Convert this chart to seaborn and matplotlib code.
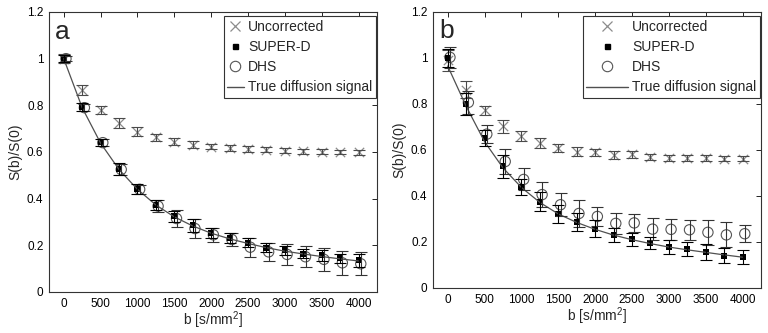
import matplotlib
matplotlib.use("Agg")
import matplotlib.pyplot as plt
import seaborn as sns
import pandas as pd
from matplotlib.lines import Line2D

# b-values (s/mm^2)
b_vals = [0, 250, 500, 750, 1000, 1250, 1500, 1750, 2000,
          2250, 2500, 2750, 3000, 3250, 3500, 3750, 4000]

# panel a
unc_a = [1.00, 0.866, 0.780, 0.723, 0.687, 0.663, 0.644, 0.632, 0.623,
         0.618, 0.612, 0.609, 0.606, 0.604, 0.602, 0.600, 0.599]
unc_a_err = [0.020, 0.020, 0.018, 0.022, 0.018, 0.016, 0.015, 0.016, 0.012,
             0.012, 0.012, 0.011, 0.011, 0.011, 0.011, 0.010, 0.010]
sup_a = [1.00, 0.792, 0.642, 0.526, 0.442, 0.374, 0.324, 0.286, 0.253,
         0.232, 0.211, 0.190, 0.178, 0.165, 0.157, 0.144, 0.137]
sup_a_err = [0.015, 0.018, 0.015, 0.025, 0.022, 0.022, 0.025, 0.028, 0.020,
             0.021, 0.020, 0.018, 0.020, 0.020, 0.025, 0.020, 0.028]
dhs_a = [1.00, 0.790, 0.640, 0.525, 0.440, 0.368, 0.315, 0.272, 0.245,
         0.225, 0.192, 0.172, 0.161, 0.151, 0.140, 0.125, 0.121]
dhs_a_err = [0.012, 0.015, 0.015, 0.025, 0.020, 0.025, 0.038, 0.042, 0.030,
             0.028, 0.040, 0.040, 0.045, 0.045, 0.050, 0.050, 0.050]
true_a = [1.00, 0.790, 0.638, 0.525, 0.440, 0.373, 0.322, 0.283, 0.252,
          0.228, 0.208, 0.190, 0.175, 0.163, 0.152, 0.142, 0.133]

# panel b
unc_b = [0.990, 0.862, 0.773, 0.704, 0.662, 0.630, 0.608, 0.593, 0.590,
         0.579, 0.581, 0.568, 0.567, 0.567, 0.566, 0.563, 0.563]
unc_b_err = [0.045, 0.038, 0.020, 0.028, 0.022, 0.022, 0.018, 0.020, 0.015,
             0.016, 0.015, 0.013, 0.013, 0.013, 0.013, 0.012, 0.012]
sup_b = [1.00, 0.800, 0.653, 0.530, 0.440, 0.376, 0.323, 0.289, 0.258,
         0.230, 0.212, 0.195, 0.179, 0.169, 0.157, 0.141, 0.135]
sup_b_err = [0.040, 0.048, 0.035, 0.050, 0.034, 0.043, 0.039, 0.039, 0.037,
             0.032, 0.029, 0.027, 0.031, 0.029, 0.034, 0.032, 0.032]
dhs_b = [1.003, 0.807, 0.669, 0.550, 0.472, 0.406, 0.362, 0.324, 0.311,
         0.281, 0.283, 0.256, 0.255, 0.253, 0.242, 0.231, 0.236]
dhs_b_err = [0.045, 0.050, 0.040, 0.055, 0.048, 0.054, 0.049, 0.060, 0.042,
             0.045, 0.040, 0.048, 0.046, 0.043, 0.054, 0.054, 0.037]
true_b = [0.965, 0.790, 0.636, 0.522, 0.437, 0.372, 0.322, 0.285, 0.255,
          0.230, 0.210, 0.193, 0.178, 0.166, 0.155, 0.144, 0.134]

dhs_shift = 30  # circles drawn slightly right of the nominal b

x_ticks = [0, 500, 1000, 1500, 2000, 2500, 3000, 3500, 4000]
y_ticks = [0, 0.2, 0.4, 0.6, 0.8, 1.0, 1.2]
y_labels = ['0', '0.2', '0.4', '0.6', '0.8', '1', '1.2']

sns.set_style("white")
plt.rcParams['font.family'] = ['Liberation Sans', 'DejaVu Sans']
plt.rcParams['mathtext.default'] = 'regular'

UNC_C = '#8c8c8c'
UNC_E = '#4a4a4a'
DHS_C = '#555555'
LINE_C = '#505050'


def draw_panel(ax, letter, unc, unc_err, sup, sup_err, dhs, dhs_err, true_sig, hlen):
    df = pd.DataFrame({'b': b_vals, 'true': true_sig})
    sns.lineplot(data=df, x='b', y='true', ax=ax, color=LINE_C, linewidth=0.9)

    ax.errorbar(b_vals, unc, yerr=unc_err, fmt='none', ecolor=UNC_E,
                elinewidth=0.8, capsize=4, capthick=0.8)
    ax.errorbar([b + dhs_shift for b in b_vals], dhs, yerr=dhs_err, fmt='none',
                ecolor='#333333', elinewidth=0.8, capsize=4, capthick=0.8)
    ax.errorbar(b_vals, sup, yerr=sup_err, fmt='none', ecolor='black',
                elinewidth=0.8, capsize=4, capthick=0.8)

    sns.scatterplot(x=b_vals, y=unc, ax=ax, marker='x', s=45, color=UNC_C,
                    linewidth=0.9)
    sns.scatterplot(x=[b + dhs_shift for b in b_vals], y=dhs, ax=ax, marker='o',
                    s=55, facecolor='none', edgecolor=DHS_C, linewidth=0.8)
    sns.scatterplot(x=b_vals, y=sup, ax=ax, marker='s', s=14, color='black',
                    edgecolor='black', linewidth=0)

    ax.set_xlim(-200, 4250)
    ax.set_ylim(0, 1.2)
    ax.set_xticks(x_ticks)
    ax.set_xticklabels([str(t) for t in x_ticks])
    ax.set_yticks(y_ticks)
    ax.set_yticklabels(y_labels)
    ax.tick_params(direction='in', top=True, right=True, length=3.5,
                   width=0.6, labelsize=8.5, pad=4, colors='black')
    for sp in ax.spines.values():
        sp.set_color('#333333')
        sp.set_linewidth(0.8)
    ax.set_xlabel('b [s/mm$^{2}$]', fontsize=10, labelpad=0)
    ax.set_ylabel('S(b)/S(0)', fontsize=10, labelpad=3)
    ax.text(0.018, 0.93, letter, transform=ax.transAxes, fontsize=19,
            va='center', ha='left')

    handles = [
        Line2D([], [], linestyle='none', marker='x', markersize=7,
               color=UNC_C, markeredgewidth=0.9),
        Line2D([], [], linestyle='none', marker='s', markersize=3.6,
               color='black'),
        Line2D([], [], linestyle='none', marker='o', markersize=7.5,
               markerfacecolor='none', markeredgecolor=DHS_C,
               markeredgewidth=0.8),
        Line2D([], [], color=LINE_C, linewidth=1.0),
    ]
    labels = ['Uncorrected', 'SUPER-D', 'DHS', 'True diffusion signal']
    leg = ax.legend(handles, labels, loc='upper right',
                    bbox_to_anchor=(0.996, 0.985), fontsize=10,
                    handlelength=hlen, handletextpad=0.3, labelspacing=0.45,
                    borderpad=0.25, borderaxespad=0.0, fancybox=False,
                    framealpha=1.0)
    leg.get_frame().set_edgecolor('#333333')
    leg.get_frame().set_linewidth(0.8)


fig = plt.figure(figsize=(7.68, 3.33), dpi=100)
ax_a = fig.add_axes([49 / 768, 41 / 333, 328 / 768, 280 / 333])
ax_b = fig.add_axes([433 / 768, 45 / 333, 328 / 768, 276 / 333])

draw_panel(ax_a, 'a', unc_a, unc_a_err, sup_a, sup_a_err,
           dhs_a, dhs_a_err, true_a, 1.2)
draw_panel(ax_b, 'b', unc_b, unc_b_err, sup_b, sup_b_err,
           dhs_b, dhs_b_err, true_b, 3.0)

fig.savefig('out.png', dpi=100)
